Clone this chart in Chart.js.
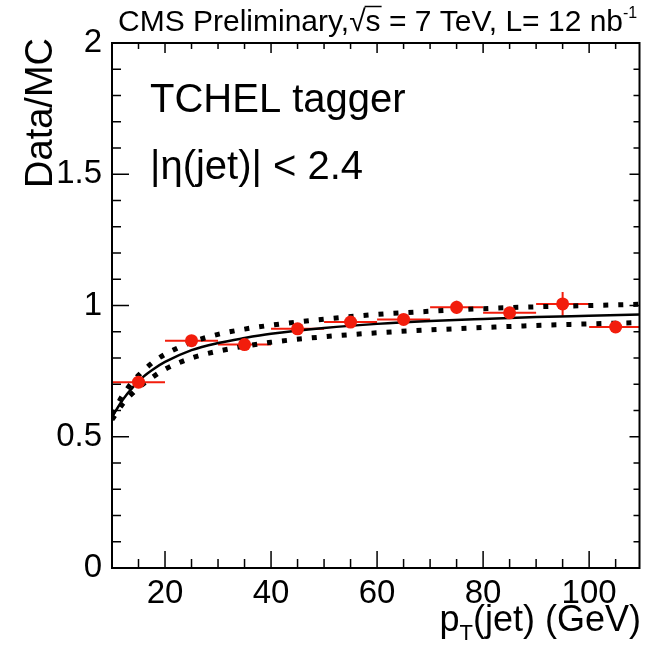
<!DOCTYPE html>
<html>
<head>
<meta charset="utf-8">
<script src="https://cdn.jsdelivr.net/npm/chart.js@4/dist/chart.umd.min.js"></script>
<style>
  html, body { margin: 0; padding: 0; background: #ffffff; }
  #wrap { width: 646px; height: 649px; }
  canvas { display: block; }
</style>
</head>
<body>
<div id="wrap"><canvas id="c" width="646" height="649"></canvas></div>
<script>
// Measured Data/MC ratio per jet pT bin
const ptBinCenters = [15, 25, 35, 45, 55, 65, 75, 85, 95, 105];
const ptBinHalfWidths = [5, 5, 5, 5, 5, 5, 5, 5, 5, 5];
const ratioValues = [0.708, 0.866, 0.851, 0.911, 0.937, 0.947, 0.993, 0.972, 1.006, 0.918];
const ratioErrors = [0.012, 0.012, 0.012, 0.014, 0.014, 0.016, 0.025, 0.018, 0.045, 0.015];

// Fitted ratio curve and its uncertainty band
const fitPt      = [10, 12, 14, 16, 18, 20, 25, 30, 35, 40, 50, 60, 70, 80, 90, 100, 110];
const fitCentral = [0.575, 0.640, 0.690, 0.730, 0.760, 0.785, 0.830, 0.857, 0.876, 0.892, 0.914, 0.930, 0.941, 0.949, 0.956, 0.961, 0.966];
const fitUpper   = [0.585, 0.657, 0.712, 0.754, 0.788, 0.814, 0.860, 0.890, 0.910, 0.925, 0.948, 0.966, 0.978, 0.988, 0.995, 1.000, 1.005];
const fitLower   = [0.565, 0.625, 0.668, 0.703, 0.732, 0.757, 0.800, 0.826, 0.845, 0.860, 0.881, 0.896, 0.907, 0.916, 0.924, 0.930, 0.935];

// Axis labelling
const xTickValues = [20, 40, 60, 80, 100];
const yTickValues = [0, 0.5, 1, 1.5, 2];

const FONT = '"Liberation Sans", Arial, Helvetica, sans-serif';

function toXY(xs, ys) { return xs.map((x, i) => ({ x: x, y: ys[i] })); }

// Error bars for the measured points, drawn beneath the markers
const errorBarPlugin = {
  id: 'errorBars',
  beforeDatasetsDraw(chart) {
    const { ctx, scales: { x, y }, chartArea } = chart;
    ctx.save();
    ctx.beginPath();
    ctx.rect(chartArea.left, chartArea.top, chartArea.width, chartArea.height);
    ctx.clip();
    ctx.strokeStyle = '#f21d0c';
    ctx.lineWidth = 2;
    ptBinCenters.forEach((c, i) => {
      const py = y.getPixelForValue(ratioValues[i]);
      const x0 = x.getPixelForValue(c - ptBinHalfWidths[i]);
      const x1 = x.getPixelForValue(c + ptBinHalfWidths[i]);
      const px = x.getPixelForValue(c);
      const y0 = y.getPixelForValue(ratioValues[i] - ratioErrors[i]);
      const y1 = y.getPixelForValue(ratioValues[i] + ratioErrors[i]);
      ctx.beginPath();
      ctx.moveTo(x0, py); ctx.lineTo(x1, py);
      ctx.moveTo(px, y0); ctx.lineTo(px, y1);
      ctx.stroke();
    });
    ctx.restore();
  }
};

// Frame with inward ticks on all four sides, plus axis titles and captions
const framePlugin = {
  id: 'frame',
  afterDraw(chart) {
    const { ctx, scales: { x, y }, chartArea: a } = chart;
    ctx.save();
    ctx.strokeStyle = '#000';
    ctx.lineWidth = 2;
    ctx.strokeRect(a.left, a.top, a.right - a.left, a.bottom - a.top);

    ctx.lineWidth = 1.5;
    ctx.beginPath();
    // x ticks: minor every 5 GeV, major at labelled values
    for (let v = 15; v < x.max; v += 5) {
      const px = x.getPixelForValue(v);
      const major = xTickValues.includes(v);
      ctx.moveTo(px, a.bottom); ctx.lineTo(px, a.bottom - (major ? 17 : 9));
      ctx.moveTo(px, a.top); ctx.lineTo(px, a.top + (major ? 10 : 6));
    }
    // y ticks: minor every 0.1, major at labelled values
    for (let k = 1; k < 20; k++) {
      const v = k / 10;
      const py = y.getPixelForValue(v);
      const major = yTickValues.some(t => Math.abs(t - v) < 1e-9);
      ctx.moveTo(a.left, py); ctx.lineTo(a.left + (major ? 17 : 9), py);
      ctx.moveTo(a.right, py); ctx.lineTo(a.right - (major ? 10 : 6), py);
    }
    ctx.stroke();

    ctx.fillStyle = '#000';
    ctx.textBaseline = 'alphabetic';

    // y-axis title, aligned to the top of the axis
    ctx.save();
    ctx.translate(52, 38);
    ctx.rotate(-Math.PI / 2);
    ctx.font = '38px ' + FONT;
    ctx.textAlign = 'right';
    ctx.fillText('Data/MC', 0, 0);
    ctx.restore();

    // x-axis title with subscript T, aligned to the right end
    const mainFont = '36px ' + FONT;
    const subFont = '22px ' + FONT;
    ctx.font = mainFont;
    const rest = '(jet) (GeV)';
    const wRest = ctx.measureText(rest).width;
    const wP = ctx.measureText('p').width;
    ctx.font = subFont;
    const wT = ctx.measureText('T').width;
    const xEnd = 641, baseX = 631;
    const xStart = xEnd - wRest - wT - wP;
    ctx.font = mainFont;
    ctx.textAlign = 'left';
    ctx.fillText('p', xStart, baseX);
    ctx.font = subFont;
    ctx.fillText('T', xStart + wP, baseX + 9);
    ctx.font = mainFont;
    ctx.fillText(rest, xStart + wP + wT, baseX);

    // header line
    const hFont = '30px ' + FONT;
    const hSup = '16px ' + FONT;
    const baseH = 31;
    let cx = 118;
    ctx.font = hFont;
    const part1 = 'CMS Preliminary,';
    ctx.fillText(part1, cx, baseH); cx += ctx.measureText(part1).width;
    const wRoot = ctx.measureText('\u221A').width;
    ctx.fillText('\u221A', cx, baseH);
    const wS = ctx.measureText('s').width;
    ctx.fillText('s', cx + wRoot, baseH);
    ctx.lineWidth = 1.5;
    ctx.beginPath();
    ctx.moveTo(cx + wRoot - 1, baseH - 24.5); ctx.lineTo(cx + wRoot + wS + 1, baseH - 24.5);
    ctx.stroke();
    cx += wRoot + wS;
    const part2 = ' = 7 TeV, L= 12 nb';
    ctx.fillText(part2, cx, baseH); cx += ctx.measureText(part2).width;
    ctx.font = hSup;
    ctx.fillText('-1', cx, baseH - 13);

    // captions inside the frame
    ctx.font = '40px ' + FONT;
    ctx.fillText('TCHEL tagger', 150, 112);
    ctx.fillText('|\u03B7(jet)| < 2.4', 150, 179);
    ctx.restore();
  }
};

const chart = new Chart(document.getElementById('c'), {
  data: {
    datasets: [
      {
        type: 'line', label: 'fit', data: toXY(fitPt, fitCentral),
        borderColor: '#000', borderWidth: 2.5, pointRadius: 0,
        cubicInterpolationMode: 'monotone', fill: false, order: 2
      },
      {
        type: 'line', label: 'fit up', data: toXY(fitPt, fitUpper),
        borderColor: '#000', borderWidth: 5, borderDash: [5, 10], borderCapStyle: 'butt',
        pointRadius: 0, cubicInterpolationMode: 'monotone', fill: false, order: 3
      },
      {
        type: 'line', label: 'fit down', data: toXY(fitPt, fitLower),
        borderColor: '#000', borderWidth: 5, borderDash: [5, 10], borderCapStyle: 'butt',
        pointRadius: 0, cubicInterpolationMode: 'monotone', fill: false, order: 3
      },
      {
        type: 'scatter', label: 'data', data: toXY(ptBinCenters, ratioValues),
        backgroundColor: '#f21d0c', borderColor: '#f21d0c', borderWidth: 0,
        pointRadius: 6.5, order: 1
      }
    ]
  },
  options: {
    responsive: false,
    devicePixelRatio: 1,
    animation: false,
    events: [],
    layout: { padding: { top: 43, right: 3, left: 0, bottom: 0 } },
    plugins: { legend: { display: false }, tooltip: { enabled: false } },
    scales: {
      x: {
        type: 'linear', min: 10, max: 109.5,
        grid: { display: false }, border: { display: false },
        afterFit(s) { s.height = 81; },
        afterBuildTicks(s) { s.ticks = xTickValues.map(v => ({ value: v })); },
        ticks: {
          padding: -2, color: '#000', maxRotation: 0, autoSkip: false,
          font: { family: FONT, size: 33 },
          callback: v => String(v)
        }
      },
      y: {
        type: 'linear', min: 0, max: 2,
        grid: { display: false }, border: { display: false },
        afterFit(s) { s.width = 112; },
        afterBuildTicks(s) { s.ticks = yTickValues.map(v => ({ value: v })); },
        ticks: {
          padding: 2, color: '#000', autoSkip: false,
          font: { family: FONT, size: 33 },
          callback: v => String(v)
        }
      }
    }
  },
  plugins: [errorBarPlugin, framePlugin]
});
</script>
</body>
</html>
